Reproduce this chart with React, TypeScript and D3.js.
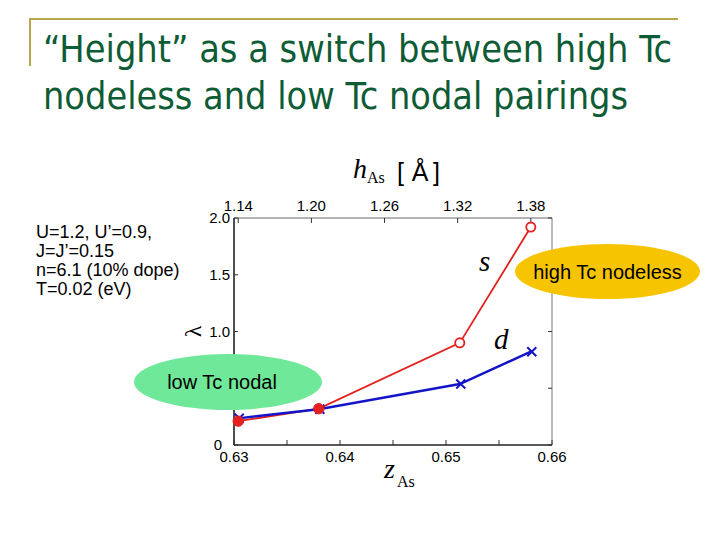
import React from "react";
import * as d3 from "d3";

// ---- data ----
const zAs: number[] = [0.6304, 0.638, 0.6513, 0.658];
const sLambda: number[] = [0.21, 0.32, 0.9, 1.92];
const sFilled: boolean[] = [true, true, false, false];
const dLambda: number[] = [0.235, 0.315, 0.537, 0.822];
const zTicks: number[] = [0.63, 0.64, 0.65, 0.66];
const zMinorTicks: number[] = [0.63, 0.635, 0.64, 0.645, 0.65, 0.655, 0.66];
const hTicks: number[] = [1.14, 1.2, 1.26, 1.32, 1.38];
const hAtData: number[] = [1.14, 1.38];
const yTicks: number[] = [0, 0.5, 1.0, 1.5, 2.0];
// the 0.5 label is hidden behind the "low Tc nodal" callout in the reference
const yTickLabels: number[] = [0, 1.0, 1.5, 2.0];
const titleLines: string[] = [
  "\u201CHeight\u201D as a switch between high Tc",
  "nodeless and low Tc nodal pairings",
];
const paramLines: string[] = [
  "U=1.2, U\u2019=0.9,",
  "J=J\u2019=0.15",
  "n=6.1 (10% dope)",
  "T=0.02 (eV)",
];

const W = 720;
const H = 540;
const plot = { left: 234, right: 552, top: 218, bottom: 445 };

const RED = "#e3211e";
const BLUE = "#1414c8";
const SANS = "'Liberation Sans', Arial, Helvetica, sans-serif";
const SERIF = "'Liberation Serif', 'Times New Roman', serif";

export default function App() {
  const x = d3.scaleLinear().domain([0.63, 0.66]).range([plot.left, plot.right]);
  const y = d3.scaleLinear().domain([0, 2]).range([plot.bottom, plot.top]);
  const h = d3
    .scaleLinear()
    .domain(hAtData)
    .range([x(zAs[0]), x(zAs[zAs.length - 1])]);

  const line = d3
    .line<number>()
    .x((_, i) => x(zAs[i]))
    .y((v) => y(v));

  const fmtY = (v: number) => (v === 0 ? "0" : v.toFixed(1));

  return (
    <svg
      width={W}
      height={H}
      viewBox={`0 0 ${W} ${H}`}
      style={{ position: "absolute", left: 0, top: 0, background: "#fff" }}
    >
      <rect x={0} y={0} width={W} height={H} fill="#fff" />
      {/* slide decoration */}
      <line x1={29} y1={19} x2={678} y2={19} stroke="#bba54a" strokeWidth={2} />
      <line x1={30} y1={18} x2={30} y2={66} stroke="#bba54a" strokeWidth={2} />
      {/* title */}
      <text
        x={43}
        y={62}
        fontFamily="'DejaVu Sans Condensed', 'DejaVu Sans', sans-serif"
        fontSize={37}
        fill="#0e5c35"
        textLength={629}
        lengthAdjust="spacingAndGlyphs"
      >
        {titleLines[0]}
      </text>
      <text
        x={43}
        y={109}
        fontFamily="'DejaVu Sans Condensed', 'DejaVu Sans', sans-serif"
        fontSize={37}
        fill="#0e5c35"
        textLength={585}
        lengthAdjust="spacingAndGlyphs"
      >
        {titleLines[1]}
      </text>

      {/* parameters */}
      {paramLines.map((t, i) => (
        <text key={i} x={36} y={238 + i * 19} fontFamily={SANS} fontSize={18} fill="#000">
          {t}
        </text>
      ))}

      {/* top axis title h_As [Å] */}
      <text x={353} y={178} fontFamily={SERIF} fontStyle="italic" fontSize={28} fill="#000">
        h
      </text>
      <text x={367} y={183} fontFamily={SERIF} fontSize={16} fill="#000">
        As
      </text>
      <text x={397} y={181} fontFamily={SANS} fontSize={25} fill="#000">
        [
      </text>
      <text x={420} y={181} textAnchor="middle" fontFamily={SANS} fontSize={25} fill="#000">
        Å
      </text>
      <text x={433} y={181} fontFamily={SANS} fontSize={25} fill="#000">
        ]
      </text>

      {/* bottom axis title z_As */}
      <text x={384} y={478} fontFamily={SERIF} fontStyle="italic" fontSize={28} fill="#000">
        z
      </text>
      <text x={397} y={487} fontFamily={SERIF} fontSize={16} fill="#000">
        As
      </text>

      {/* y axis symbol lambda (rotated) */}
      <text
        transform={`translate(195, ${y(1.0)}) rotate(-90)`}
        textAnchor="middle"
        dominantBaseline="middle"
        fontFamily={SERIF}
        fontSize={24}
        fill="#000"
      >
        λ
      </text>

      {/* frame */}
      <line x1={plot.left} y1={plot.top} x2={plot.right} y2={plot.top} stroke="#666" strokeWidth={1} />
      <line x1={plot.right} y1={plot.top} x2={plot.right} y2={plot.bottom} stroke="#777" strokeWidth={1} />
      <line x1={plot.left} y1={plot.bottom} x2={plot.right} y2={plot.bottom} stroke="#222" strokeWidth={1.6} />
      <line x1={plot.left} y1={plot.top} x2={plot.left} y2={plot.bottom} stroke="#222" strokeWidth={1.6} />

      {/* bottom ticks */}
      {zMinorTicks.map((t) => (
        <line key={"bz" + t} x1={x(t)} x2={x(t)} y1={plot.bottom} y2={plot.bottom - 5} stroke="#333" strokeWidth={1} />
      ))}
      {zTicks.map((t) => (
        <text key={"bl" + t} x={x(t)} y={462} textAnchor="middle" fontFamily={SANS} fontSize={15} fill="#000">
          {t.toFixed(2)}
        </text>
      ))}

      {/* top ticks */}
      {hTicks.map((t) => (
        <line key={"th" + t} x1={h(t)} x2={h(t)} y1={plot.top} y2={plot.top + 5} stroke="#333" strokeWidth={1} />
      ))}
      {hTicks.map((t) => (
        <text key={"tl" + t} x={h(t)} y={211} textAnchor="middle" fontFamily={SANS} fontSize={15} fill="#000">
          {t.toFixed(2)}
        </text>
      ))}

      {/* left / right ticks */}
      {yTicks.map((t) => (
        <g key={"y" + t}>
          <line x1={plot.left} x2={plot.left + 4} y1={y(t)} y2={y(t)} stroke="#333" strokeWidth={1} />
          <line x1={plot.right} x2={plot.right - 4} y1={y(t)} y2={y(t)} stroke="#333" strokeWidth={1} />
        </g>
      ))}
      {yTickLabels.map((t) => (
        <text
          key={"yl" + t}
          x={t === 0 ? 222 : 230}
          y={y(t) + 5}
          textAnchor="end"
          fontFamily={SANS}
          fontSize={15}
          fill="#000"
        >
          {fmtY(t)}
        </text>
      ))}

      {/* series lines */}
      <path d={line(sLambda) || ""} fill="none" stroke={RED} strokeWidth={1.8} />
      <path d={line(dLambda) || ""} fill="none" stroke={BLUE} strokeWidth={2.4} />

      {/* d markers */}
      {dLambda.map((v, i) => {
        const cx = x(zAs[i]) + 1;
        const cy = y(v);
        const s = 4.5;
        return (
          <path
            key={"dm" + i}
            d={`M${cx - s},${cy - s}L${cx + s},${cy + s}M${cx - s},${cy + s}L${cx + s},${cy - s}`}
            stroke={BLUE}
            strokeWidth={2}
            fill="none"
          />
        );
      })}

      {/* s markers */}
      {sLambda.map((v, i) =>
        sFilled[i] ? (
          <circle key={"sm" + i} cx={x(zAs[i])} cy={y(v)} r={5.2} fill={RED} stroke={RED} strokeWidth={1} />
        ) : (
          <circle key={"sm" + i} cx={x(zAs[i])} cy={y(v)} r={4.6} fill="#fff" stroke={RED} strokeWidth={1.8} />
        )
      )}

      {/* series labels */}
      <text x={479} y={271} fontFamily={SERIF} fontStyle="italic" fontSize={29} fill="#000">
        s
      </text>
      <text x={494} y={349} fontFamily={SERIF} fontStyle="italic" fontSize={29} fill="#000">
        d
      </text>

      {/* callouts */}
      <ellipse cx={228} cy={382} rx={94} ry={28} fill="#70e89a" />
      <text x={222} y={389} textAnchor="middle" fontFamily={SANS} fontSize={20} fill="#000">
        low Tc nodal
      </text>
      <ellipse cx={607.5} cy={271.5} rx={92.5} ry={27.5} fill="#f6c400" />
      <text x={607.5} y={279} textAnchor="middle" fontFamily={SANS} fontSize={20} fill="#000">
        high Tc nodeless
      </text>
    </svg>
  );
}
